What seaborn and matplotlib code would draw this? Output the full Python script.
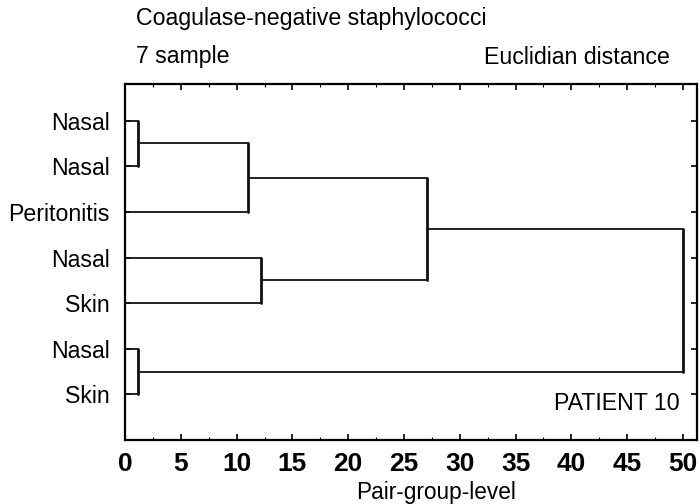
import matplotlib
matplotlib.use("Agg")
import matplotlib.pyplot as plt
import numpy as np
import pandas as pd
import seaborn as sns
from matplotlib.ticker import MultipleLocator

# --- dane ---
LEAF_LABELS = ["Nasal", "Nasal", "Peritonitis", "Nasal", "Skin", "Nasal", "Skin"]
# polaczenia: (lewe dziecko, prawe dziecko, poziom) ; dzieci >= 7 to wczesniejsze klastry
LINK_LEFT = [0, 7, 3, 8, 5, 10]
LINK_RIGHT = [1, 2, 4, 9, 6, 11]
LINK_HEIGHT = [1.2, 11.0, 12.2, 27.1, 1.2, 50.0]
X_TICKS = [0, 5, 10, 15, 20, 25, 30, 35, 40, 45, 50]

FONT = ["Liberation Sans", "DejaVu Sans"]
TEXT_SIZE = 16.7


def build_segments():
    """Zamienia liste polaczen na odcinki dendrogramu (pionowe i poziome)."""
    pos = {i: (0.0, float(i + 1)) for i in range(len(LEAF_LABELS))}
    rows = []
    seg = 0
    for k, (a, b, h) in enumerate(zip(LINK_LEFT, LINK_RIGHT, LINK_HEIGHT)):
        xa, ya = pos[a]
        xb, yb = pos[b]
        rows += [("h", seg, xa, ya), ("h", seg, h, ya)]
        seg += 1
        rows += [("h", seg, xb, yb), ("h", seg, h, yb)]
        seg += 1
        rows += [("v", seg, h, ya), ("v", seg, h, yb)]
        seg += 1
        pos[len(LEAF_LABELS) + k] = (h, (ya + yb) / 2)
    return pd.DataFrame(rows, columns=["kind", "seg", "x", "y"])


def main():
    sns.set_theme(style="ticks")
    plt.rcParams["font.family"] = FONT
    plt.rcParams["text.color"] = "black"
    plt.rcParams["xtick.color"] = "black"
    plt.rcParams["ytick.color"] = "black"

    fig = plt.figure(figsize=(7.0, 5.04), dpi=100)
    ax = fig.add_axes([0.1786, 0.127, 0.817, 0.706])

    df = build_segments()
    sns.lineplot(data=df[df.kind == "h"], x="x", y="y", units="seg",
                 estimator=None, sort=False, color="#111111", lw=1.3, ax=ax)
    sns.lineplot(data=df[df.kind == "v"], x="x", y="y", units="seg",
                 estimator=None, sort=False, color="#111111", lw=2.0, ax=ax)

    ax.set_xlim(0, 51.25)
    ax.set_ylim(8.0, 0.2)
    ax.set_xlabel("")
    ax.set_ylabel("")

    ax.set_yticks(np.arange(1, len(LEAF_LABELS) + 1))
    ax.set_yticklabels(LEAF_LABELS, fontsize=TEXT_SIZE, color="black")
    ax.set_xticks(X_TICKS)
    ax.set_xticklabels([str(t) for t in X_TICKS], fontsize=19,
                       fontweight="bold", color="black")
    ax.xaxis.set_minor_locator(MultipleLocator(2.5))

    ax.tick_params(axis="y", direction="in", length=4, width=1.2,
                   left=True, right=True, pad=11)
    ax.tick_params(axis="x", which="major", direction="in", length=4,
                   width=1.2, top=True, bottom=True, pad=9)
    ax.tick_params(axis="x", which="minor", direction="in", length=2,
                   width=0.8, top=True, bottom=True)
    for sp in ax.spines.values():
        sp.set_visible(True)
        sp.set_linewidth(1.6)
        sp.set_color("black")

    fig.text(136 / 700, 1 - 18 / 504, "Coagulase-negative staphylococci",
             fontsize=TEXT_SIZE, ha="left", va="center")
    fig.text(136 / 700, 1 - 57 / 504, "7 sample", fontsize=TEXT_SIZE,
             ha="left", va="center")
    fig.text(670 / 700, 1 - 57 / 504, "Euclidian distance", fontsize=TEXT_SIZE,
             ha="right", va="center")
    fig.text(680 / 700, 1 - 403 / 504, "PATIENT 10", fontsize=TEXT_SIZE,
             ha="right", va="center")
    fig.text(436 / 700, 1 - 492 / 504, "Pair-group-level", fontsize=16.3,
             ha="center", va="center")

    fig.savefig("out.png", dpi=100, facecolor="white")
    plt.close(fig)


if __name__ == "__main__":
    main()
